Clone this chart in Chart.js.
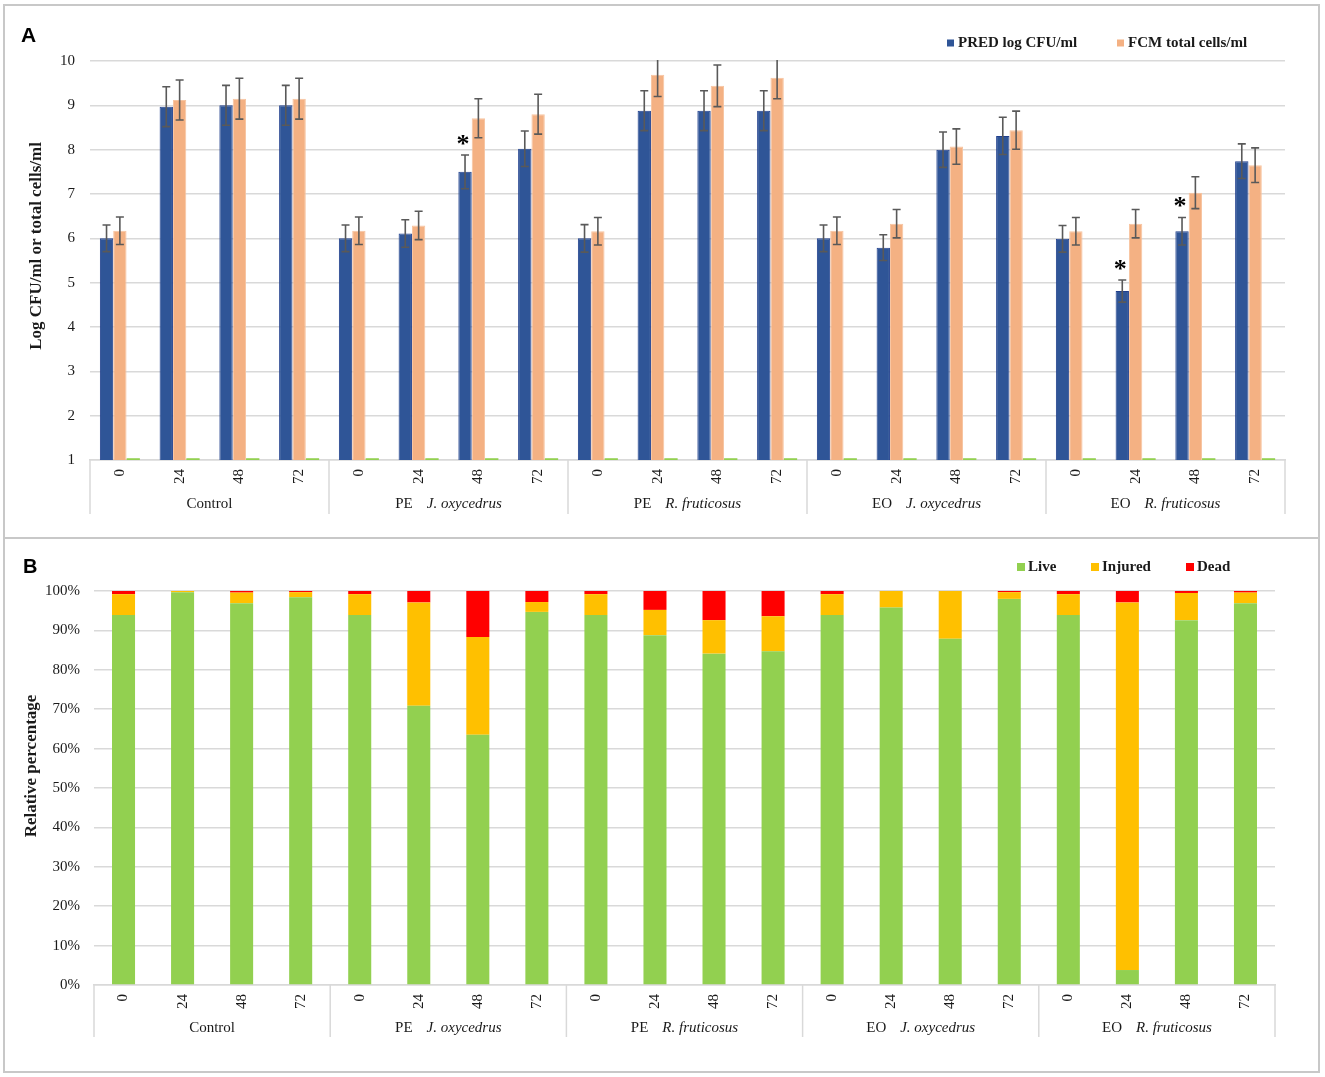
<!DOCTYPE html>
<html><head><meta charset="utf-8">
<script src="https://cdn.jsdelivr.net/npm/chart.js@4.4.1/dist/chart.umd.min.js"></script>
<style>
html,body{margin:0;padding:0;background:#fff;}
body{width:1325px;height:1077px;position:relative;overflow:hidden;}
canvas{position:absolute;left:0;}
#cA{top:0;}
#cB{top:538px;}
.frame{position:absolute;border:2px solid #c8c8c8;box-sizing:border-box;pointer-events:none;}
</style></head><body>
<canvas id="cA" width="1325" height="538"></canvas>
<canvas id="cB" width="1325" height="536"></canvas>
<div class="frame" style="left:3px;top:4px;width:1317px;height:535px"></div>
<div class="frame" style="left:3px;top:537px;width:1317px;height:536px"></div>
<script>
// ---------- DATA ----------
const timePoints = ['0', '24', '48', '72'];
const groupPrefix = ['Control', 'PE', 'PE', 'EO', 'EO'];
const groupSpecies = ['', 'J. oxycedrus', 'R. fruticosus', 'J. oxycedrus', 'R. fruticosus'];

// Panel A
const predLog  = [6.00, 8.97, 9.00, 9.00, 6.00, 6.11, 7.50, 8.02, 6.00, 8.88, 8.88, 8.88, 6.00, 5.79, 8.00, 8.31, 5.99, 4.81, 6.16, 7.74];
const predErr  = [0.30, 0.45, 0.45, 0.45, 0.30, 0.31, 0.38, 0.40, 0.31, 0.45, 0.45, 0.45, 0.30, 0.29, 0.40, 0.42, 0.30, 0.25, 0.31, 0.39];
const fcmTotal = [6.17, 9.12, 9.15, 9.15, 6.17, 6.29, 8.71, 8.80, 6.16, 9.69, 9.44, 9.62, 6.17, 6.33, 8.07, 8.44, 6.16, 6.33, 7.03, 7.65];
const fcmErr   = [0.31, 0.45, 0.46, 0.46, 0.31, 0.32, 0.44, 0.45, 0.31, 0.49, 0.47, 0.47, 0.31, 0.32, 0.40, 0.43, 0.31, 0.32, 0.36, 0.39];
const thirdSeries = [1.04, 1.04, 1.04, 1.04, 1.04, 1.04, 1.04, 1.04, 1.04, 1.04, 1.04, 1.04, 1.04, 1.04, 1.04, 1.04, 1.04, 1.04, 1.04, 1.04];
const significant = [6, 17, 18];
const yTicksA = [1, 2, 3, 4, 5, 6, 7, 8, 9, 10];

// Panel B (%)
const live    = [93.9, 99.7, 96.9, 98.4, 93.9, 70.9, 63.5, 94.7, 93.9, 88.8, 84.1, 84.7, 93.9, 95.8, 87.9, 98.0, 93.9, 3.8, 92.6, 96.9];
const injured = [5.3, 0.3, 2.7, 1.3, 5.3, 26.2, 24.8, 2.5, 5.3, 6.4, 8.5, 8.9, 5.3, 4.2, 12.1, 1.7, 5.3, 93.3, 6.9, 2.7];
const dead    = [0.8, 0.0, 0.4, 0.3, 0.8, 2.9, 11.7, 2.8, 0.8, 4.8, 7.4, 6.4, 0.8, 0.0, 0.0, 0.3, 0.8, 2.9, 0.5, 0.4];

// ---------- BUILD ----------
const labels = [];
groupPrefix.forEach(() => timePoints.forEach(t => labels.push(t)));

const SERIF = '"Liberation Serif", "Times New Roman", serif';
const SANS = '"Liberation Sans", Arial, sans-serif';
const GRID = '#d9d9d9';
const TXT = '#1a1a1a';

function drawGroups(chart, sepLen, labelOffset) {
  const ctx = chart.ctx, xs = chart.scales.x, ca = chart.chartArea;
  const n = timePoints.length;
  const w = (xs.right - xs.left) / labels.length;
  ctx.save();
  ctx.strokeStyle = GRID; ctx.lineWidth = 1.5;
  for (let k = 0; k <= groupPrefix.length; k++) {
    const x = xs.left + k * n * w;
    ctx.beginPath(); ctx.moveTo(x, ca.bottom); ctx.lineTo(x, ca.bottom + sepLen); ctx.stroke();
  }
  ctx.fillStyle = TXT; ctx.textBaseline = 'middle';
  const y = ca.bottom + labelOffset;
  groupPrefix.forEach((p, g) => {
    const cx = xs.left + (g * n + n / 2) * w;
    const fN = '15px ' + SERIF, fI = 'italic 15px ' + SERIF;
    ctx.font = fN; const w1 = ctx.measureText(p).width;
    const sp = groupSpecies[g];
    let w2 = 0, gap = 0;
    if (sp) { ctx.font = fI; w2 = ctx.measureText(sp).width; gap = 14; }
    let x0 = cx - (w1 + gap + w2) / 2;
    ctx.textAlign = 'left';
    ctx.font = fN; ctx.fillText(p, x0, y);
    if (sp) { ctx.font = fI; ctx.fillText(sp, x0 + w1 + gap, y); }
  });
  ctx.restore();
}

function drawYTitle(chart, text, cx, cy, size) {
  const ctx = chart.ctx;
  ctx.save();
  ctx.translate(cx, cy); ctx.rotate(-Math.PI / 2);
  ctx.font = 'bold ' + size + 'px ' + SERIF;
  ctx.fillStyle = TXT; ctx.textAlign = 'center'; ctx.textBaseline = 'middle';
  ctx.fillText(text, 0, 0);
  ctx.restore();
}

function drawLegend(chart, items, y) {
  const ctx = chart.ctx;
  ctx.save();
  ctx.font = 'bold 15px ' + SERIF; ctx.textBaseline = 'middle'; ctx.textAlign = 'left';
  items.forEach(it => {
    ctx.fillStyle = it.color;
    ctx.fillRect(it.x, y - it.box / 2, it.box, it.box);
    ctx.fillStyle = TXT;
    ctx.fillText(it.text, it.tx, y);
  });
  ctx.restore();
}

function drawLetter(chart, ch, x, y, size) {
  const ctx = chart.ctx;
  ctx.save();
  ctx.font = 'bold ' + size + 'px ' + SANS; ctx.fillStyle = '#000';
  ctx.textAlign = 'left'; ctx.textBaseline = 'alphabetic';
  ctx.fillText(ch, x, y);
  ctx.restore();
}

const pluginA = {
  id: 'panelA',
  afterDatasetsDraw(chart) {
    const ctx = chart.ctx, ca = chart.chartArea, ys = chart.scales.y;
    ctx.save();
    ctx.beginPath(); ctx.rect(ca.left, ca.top - 1, ca.right - ca.left, ca.bottom - ca.top + 1); ctx.clip();
    ctx.strokeStyle = '#595959'; ctx.lineWidth = 1.6;
    [[0, predLog, predErr], [1, fcmTotal, fcmErr]].forEach(([di, vals, errs]) => {
      chart.getDatasetMeta(di).data.forEach((bar, i) => {
        const yt = ys.getPixelForValue(vals[i] + errs[i]);
        const yb = ys.getPixelForValue(vals[i] - errs[i]);
        const x = bar.x;
        ctx.beginPath();
        ctx.moveTo(x, yt); ctx.lineTo(x, yb);
        ctx.moveTo(x - 4, yt); ctx.lineTo(x + 4, yt);
        ctx.moveTo(x - 4, yb); ctx.lineTo(x + 4, yb);
        ctx.stroke();
      });
    });
    ctx.restore();
    // significance asterisks
    ctx.save();
    ctx.font = 'bold 26px ' + SERIF; ctx.fillStyle = '#000';
    ctx.textAlign = 'center'; ctx.textBaseline = 'alphabetic';
    const meta0 = chart.getDatasetMeta(0);
    significant.forEach(i => {
      const bar = meta0.data[i];
      const yc = ys.getPixelForValue(predLog[i] + predErr[i]) - 15;
      ctx.fillText('*', bar.x - 2, yc + 12);
    });
    ctx.restore();
  },
  afterDraw(chart) {
    drawGroups(chart, 54, 44);
    drawYTitle(chart, 'Log CFU/ml or total cells/ml', 37, 246, 17);
    drawLegend(chart, [
      {color: '#2f5597', x: 947, box: 7, tx: 958, text: chart.data.datasets[0].label},
      {color: '#f4b183', x: 1117, box: 7, tx: 1128, text: chart.data.datasets[1].label}
    ], 43);
    drawLetter(chart, 'A', 21, 42, 21);
  }
};

const pluginB = {
  id: 'panelB',
  afterDraw(chart) {
    drawGroups(chart, 52, 43);
    drawYTitle(chart, 'Relative percentage', 32, 228, 17);
    drawLegend(chart, [
      {color: '#92d050', x: 1017, box: 8, tx: 1028, text: chart.data.datasets[0].label},
      {color: '#ffc000', x: 1091, box: 8, tx: 1102, text: chart.data.datasets[1].label},
      {color: '#ff0000', x: 1186, box: 8, tx: 1197, text: chart.data.datasets[2].label}
    ], 29);
    drawLetter(chart, 'B', 23, 35, 20);
  }
};

const tickFont = {family: SERIF, size: 15};

new Chart(document.getElementById('cA'), {
  type: 'bar',
  data: {
    labels: labels,
    datasets: [
      {label: 'PRED log CFU/ml', data: predLog, backgroundColor: '#2f5597', borderColor: '#1f3e8c', borderWidth: 1},
      {label: 'FCM total cells/ml', data: fcmTotal, backgroundColor: '#f4b183', borderColor: '#f7c4a0', borderWidth: 1},
      {label: 'Series 3', data: thirdSeries, backgroundColor: '#92d050', borderWidth: 0}
    ]
  },
  options: {
    responsive: false, animation: false, devicePixelRatio: 1,
    layout: {padding: {left: 0, right: 40, top: 61, bottom: 18}},
    plugins: {legend: {display: false}, tooltip: {enabled: false}},
    datasets: {bar: {categoryPercentage: 0.67, barPercentage: 1}},
    scales: {
      x: {
        grid: {display: false, drawTicks: false},
        border: {display: true, color: GRID, width: 1.5},
        ticks: {minRotation: 90, maxRotation: 90, autoSkip: false, padding: 9, color: TXT, font: tickFont},
        afterFit(s) { s.height = 60; }
      },
      y: {
        min: 1, max: 10,
        afterBuildTicks(s) { s.ticks = yTicksA.map(v => ({value: v})); },
        grid: {color: GRID, lineWidth: 1.5, drawTicks: false},
        border: {display: false},
        ticks: {padding: 15, color: TXT, font: tickFont},
        afterFit(s) { s.width = 90; }
      }
    }
  },
  plugins: [pluginA]
});

new Chart(document.getElementById('cB'), {
  type: 'bar',
  data: {
    labels: labels,
    datasets: [
      {label: 'Live', data: live, backgroundColor: '#92d050', borderWidth: 0},
      {label: 'Injured', data: injured, backgroundColor: '#ffc000', borderWidth: 0},
      {label: 'Dead', data: dead, backgroundColor: '#ff0000', borderWidth: 0}
    ]
  },
  options: {
    responsive: false, animation: false, devicePixelRatio: 1,
    layout: {padding: {left: 0, right: 50, top: 53, bottom: 29}},
    plugins: {legend: {display: false}, tooltip: {enabled: false}},
    datasets: {bar: {categoryPercentage: 1, barPercentage: 0.39}},
    scales: {
      x: {
        stacked: true,
        grid: {display: false, drawTicks: false},
        border: {display: true, color: GRID, width: 1.5},
        ticks: {minRotation: 90, maxRotation: 90, autoSkip: false, padding: 9, color: TXT, font: tickFont},
        afterFit(s) { s.height = 60; }
      },
      y: {
        stacked: true, min: 0, max: 100,
        grid: {color: GRID, lineWidth: 1.5, drawTicks: false},
        border: {display: false},
        ticks: {stepSize: 10, padding: 14, color: TXT, font: tickFont, callback: v => v + '%'},
        afterFit(s) { s.width = 94; }
      }
    }
  },
  plugins: [pluginB]
});
</script>
</body></html>
